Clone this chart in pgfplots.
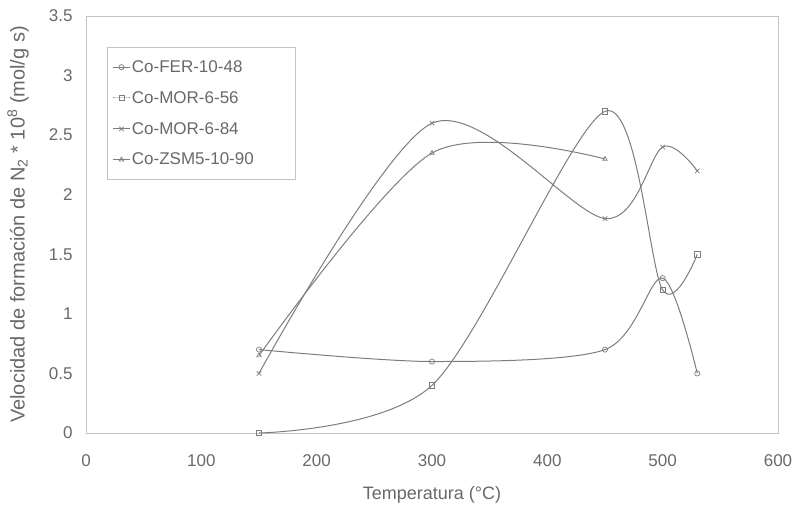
\documentclass[border=0pt]{standalone}
\usepackage{fontspec}
\setmainfont{Liberation Sans}
\usepackage{pgfplots}
\pgfplotsset{compat=1.18}
\definecolor{linegray}{RGB}{125,125,125}
\definecolor{textgray}{RGB}{105,105,105}
\definecolor{framegray}{RGB}{195,195,195}
\begin{document}
\begin{tikzpicture}
\begin{axis}[
  scale only axis,
  width=692bp, height=417bp,
  xmin=0, xmax=600, ymin=0, ymax=3.5,
  xtick={0,100,...,600},
  ytick={0,0.5,...,3.5},
  /pgf/number format/assume math mode=true,
  tick label style={font=\fontsize{17bp}{20bp}\selectfont, text=textgray},
  xticklabel style={anchor=center, yshift=-28bp},
  yticklabel style={anchor=east, xshift=-10bp},
  xlabel={Temperatura (°C)},
  ylabel={Velocidad de formación de N\textsubscript{2} * 10\textsuperscript{8} (mol/g s)},
  xlabel style={at={([yshift=-62bp]axis description cs:0.5,0)}, anchor=center,
    font=\fontsize{18bp}{21bp}\selectfont, text=textgray},
  ylabel style={at={([xshift=-68bp]axis description cs:0,0.5)}, anchor=center,
    font=\fontsize{20bp}{23bp}\selectfont, text=textgray},
  axis line style={framegray},
  tick style={draw=none},
  legend style={at={(rel axis cs:0.03,0.925)}, anchor=north west,
    draw=framegray, font=\fontsize{17bp}{20bp}\selectfont, text=textgray,
    inner xsep=6bp, inner ysep=11bp, row sep=13.5bp},
  legend cell align=left,
  legend image code/.code={
    \draw[mark repeat=2, mark phase=2, #1] plot coordinates {(0bp,0bp) (8bp,0bp) (16bp,0bp)};
  },
]
\pgfplotsset{gstyle/.style={smooth, tension=0.5, line width=1pt, draw=linegray,
    mark size=2.6pt, mark options={solid, fill=white, draw=linegray, line width=0.7pt}}}
\addplot[gstyle, mark=o] coordinates {(150,0.7) (300,0.6) (450,0.7) (500,1.3) (530,0.5)};
\addplot[gstyle, mark=square] coordinates {(150,0) (300,0.4) (450,2.7) (500,1.2) (530,1.5)};
\addplot[gstyle, mark=x, mark size=3.2pt] coordinates {(150,0.5) (300,2.6) (450,1.8) (500,2.4) (530,2.2)};
\addplot[gstyle, mark=triangle] coordinates {(150,0.65) (300,2.35) (450,2.3)};
\legend{Co-FER-10-48, Co-MOR-6-56, Co-MOR-6-84, \makebox[155bp][l]{Co-ZSM5-10-90}}
\end{axis}
\pgfresetboundingbox
\path ([shift={(-86bp,-74bp)}]current axis.south west) rectangle ([shift={(20bp,16bp)}]current axis.north east);
\end{tikzpicture}
\end{document}
